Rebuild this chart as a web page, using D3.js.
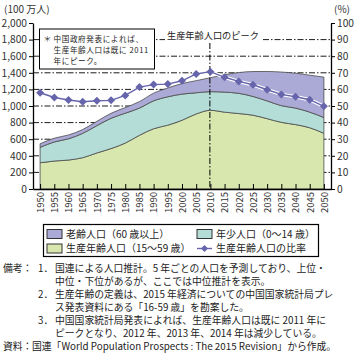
<!DOCTYPE html>
<html><head><meta charset="utf-8">
<script src="https://cdn.jsdelivr.net/npm/d3@7"></script>
<style>body{margin:0;background:#fff} svg text{font-family:"Noto Sans CJK JP","Noto Sans",sans-serif}</style>
</head><body><svg id="c" width="359" height="361"></svg>
<script>
const years = [1950,1955,1960,1965,1970,1975,1980,1985,1990,1995,2000,2005,2010,2015,2020,2025,2030,2035,2040,2045,2050];
const working = [316,337,349,377,434,487,553,647,726,769,828,904,948,926,909,889,847,803,776,738,671];
const youth   = [186,230,256,293,329,365,360,328,336,342,315,255,225,241,244,226,214,201,199,188,190];
const elderly = [42,45,46,46,52,60,68,78,92,106,127,146,168,209,250,300,355,405,420,445,487];
const ratio   = [58.0,55.1,53.6,52.6,53.2,53.4,56.4,61.4,62.9,63.2,65.2,69.3,70.7,67.3,64.8,62.8,59.8,57.0,55.6,53.8,49.8];
const leftTicks = [0,200,400,600,800,1000,1200,1400,1600,1800,2000];
const rightTicks = [0,10,20,30,40,50,60,70,80,90,100];
const peakYear = 2010;
const seriesKeys = ["working","youth","elderly"];
const legendItems = [
  {key:"elderly", label:"老齢人口（60 歳以上）"},
  {key:"youth", label:"年少人口（0〜14 歳）"},
  {key:"working", label:"生産年齢人口（15〜59 歳）"},
  {key:"ratio", label:"生産年齢人口の比率"}
];
const boxLines = ["中国政府発表によれば、","生産年齢人口は既に 2011","年にピーク。"];
const peakLabel = "生産年齢人口のピーク";
const notes = [
  {head:"備考：", num:"1．", text:"国連による人口推計。5 年ごとの人口を予測しており、上位・"},
  {head:"", num:"", text:"中位・下位があるが、ここでは中位推計を表示。"},
  {head:"", num:"2．", text:"生産年齢の定義は、2015 年経済についての中国国家統計局プレ"},
  {head:"", num:"", text:"ス発表資料にある「16-59 歳」を勘案した。"},
  {head:"", num:"3．", text:"中国国家統計局発表によれば、生産年齢人口は既に 2011 年に"},
  {head:"", num:"", text:"ピークとなり、2012 年、2013 年、2014 年は減少している。"},
  {head:"資料：", num:"", text:"国連「World Population Prospects : The 2015 Revision」から作成。"}
];

const colors = {working:"#d8e7ae", youth:"#b3ddd6", elderly:"#abaad6", ratio:"#6664ab"};
const svg = d3.select("#c");
const L=33,R=331,T=23,B=189;
const x = d3.scalePoint().domain(years).range([L,R]).padding(0.5);
const y = d3.scaleLinear().domain([0,2000]).range([B,T]);
const y2 = d3.scaleLinear().domain([0,100]).range([B,T]);
const dash = "6,2,1.5,2";

// gridlines
svg.append("g").selectAll("line").data(leftTicks.filter(d=>d>0 && d<2000)).join("line")
  .attr("x1",L).attr("x2",R).attr("y1",d=>y(d)).attr("y2",d=>y(d))
  .attr("stroke","#000").attr("stroke-width",0.9).attr("stroke-dasharray",dash);

// stacked areas
const rows = years.map((yr,i)=>({year:yr, working:working[i], youth:youth[i], elderly:elderly[i]}));
const stack = d3.stack().keys(seriesKeys)(rows);
const area = d3.area().x(d=>x(d.data.year)).y0(d=>y(d[0])).y1(d=>y(d[1])).curve(d3.curveMonotoneX);
svg.append("g").selectAll("path").data(stack).join("path")
  .attr("d",area).attr("fill",d=>colors[d.key]).attr("stroke","#4a4a4a").attr("stroke-width",0.8);

// annotation box
svg.append("rect").attr("x",39.5).attr("y",29).attr("width",115).attr("height",40)
  .attr("fill","#fff").attr("stroke","#000").attr("stroke-width",1);
svg.append("text").attr("x",43.5).attr("y",42).attr("font-size",7.6).attr("fill","#222").text("＊");
boxLines.forEach((t,i)=>svg.append("text").attr("x",53.5).attr("y",42+i*11)
  .attr("font-size",7.6).attr("letter-spacing",0.6).attr("fill","#222").text(t));

// peak label
svg.append("rect").attr("x",165).attr("y",29).attr("width",96).attr("height",13).attr("fill","#fff");
svg.append("text").attr("x",167).attr("y",38.5).attr("font-size",9.2).attr("fill","#222").text(peakLabel);

// peak vertical line
svg.append("line").attr("x1",x(peakYear)-0.5).attr("x2",x(peakYear)-0.5).attr("y1",43).attr("y2",B)
  .attr("stroke","#000").attr("stroke-width",1).attr("stroke-dasharray",dash);

// ratio line
const line = d3.line().x((d,i)=>x(years[i])).y(d=>y2(d));
svg.append("path").attr("d",line(ratio)).attr("fill","none").attr("stroke","#fff").attr("stroke-width",3.5);
svg.append("path").attr("d",line(ratio)).attr("fill","none").attr("stroke",colors.ratio).attr("stroke-width",1.4);
svg.append("g").selectAll("path").data(ratio).join("path")
  .attr("d",d3.symbol(d3.symbolSquare,32))
  .attr("transform",(d,i)=>`translate(${x(years[i])},${y2(d)}) rotate(45)`)
  .attr("fill",colors.ratio);

// axes
function styleAxis(g){
  g.selectAll("path.domain").attr("stroke","#000").attr("stroke-width",1.3);
  g.selectAll(".tick line").attr("stroke","#000");
  g.selectAll("text").attr("fill","#333").attr("font-family",'"Noto Sans CJK JP",sans-serif');
}
const gl = svg.append("g").attr("transform",`translate(${L},0)`)
  .call(d3.axisLeft(y).tickValues(leftTicks).tickFormat(d3.format(",")).tickSizeInner(4).tickSizeOuter(0).tickPadding(2));
styleAxis(gl); gl.selectAll("text").attr("font-size",10.2);
const gr = svg.append("g").attr("transform",`translate(${R},0)`)
  .call(d3.axisRight(y2).tickValues(rightTicks).tickSizeInner(4).tickSizeOuter(0).tickPadding(2));
styleAxis(gr); gr.selectAll("text").attr("font-size",10.2);
const gb = svg.append("g").attr("transform",`translate(0,${B})`)
  .call(d3.axisBottom(x).tickSizeInner(-5).tickSizeOuter(0).tickPadding(3));
styleAxis(gb);
gb.selectAll("text").attr("font-size",9.5).attr("transform","rotate(-90)")
  .attr("text-anchor","end").attr("x",-3).attr("y",0).attr("dy","0.35em");

// axis titles
svg.append("text").attr("x",4).attr("y",12.5).attr("font-size",10).attr("fill","#333").text("(100 万人)");
svg.append("text").attr("x",334).attr("y",12.5).attr("font-size",10).attr("fill","#333").text("(%)");

// legend
svg.append("rect").attr("x",43.5).attr("y",224.5).attr("width",275).attr("height",32)
  .attr("fill","#fff").attr("stroke","#000").attr("stroke-width",1.2);
legendItems.forEach((it,i)=>{
  const cx = i%2===0 ? 47 : 197;
  const cy = i<2 ? 234 : 248.5;
  const g = svg.append("g");
  if(it.key==="ratio"){
    g.append("line").attr("x1",cx).attr("x2",cx+15).attr("y1",cy).attr("y2",cy).attr("stroke",colors.ratio).attr("stroke-width",1.4);
    g.append("path").attr("d",d3.symbol(d3.symbolSquare,24)).attr("transform",`translate(${cx+7.5},${cy}) rotate(45)`).attr("fill",colors.ratio);
  } else {
    g.append("rect").attr("x",cx).attr("y",cy-4.5).attr("width",15).attr("height",9)
      .attr("fill",colors[it.key]).attr("stroke","#333").attr("stroke-width",1);
  }
  g.append("text").attr("x",cx+19).attr("y",cy+3.5).attr("font-size",10).attr("fill","#222").text(it.label);
});

// notes
const noteY0 = 271.5, noteDy = 13.1;
notes.forEach((n,i)=>{
  const yy = noteY0 + i*noteDy;
  if(n.head) svg.append("text").attr("x",3).attr("y",yy).attr("font-size",9.8).attr("fill","#222").text(n.head);
  if(n.num) svg.append("text").attr("x",38).attr("y",yy).attr("font-size",9.8).attr("fill","#222").text(n.num);
  svg.append("text").attr("x",n.head==="資料：" ? 32 : 55).attr("y",yy).attr("font-size",9.8).attr("fill","#222").text(n.text);
});
</script></body></html>
